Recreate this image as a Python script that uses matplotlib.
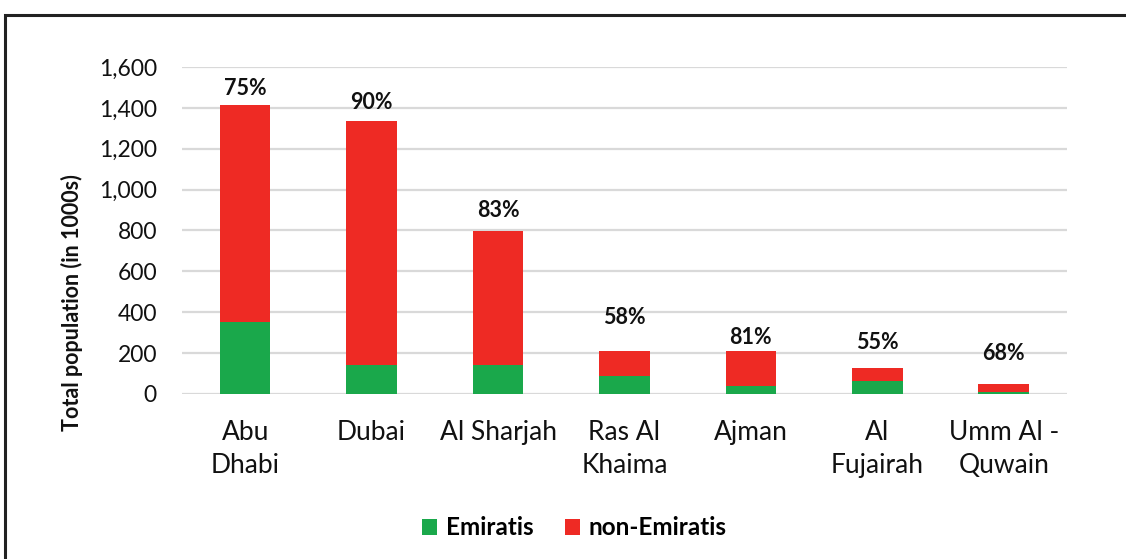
import matplotlib
matplotlib.use('Agg')
import matplotlib.pyplot as plt
from matplotlib.patches import Rectangle
import numpy as np

# Data (population in 1000s)
emirates = ["Abu\nDhabi", "Dubai", "Al Sharjah", "Ras Al\nKhaima",
            "Ajman", "Al\nFujairah", "Umm Al -\nQuwain"]
emiratis = [352, 142, 142, 90, 39, 64, 12]
non_emiratis = [1062, 1194, 656, 120, 171, 65, 38]
share_labels = ["75%", "90%", "83%", "58%", "81%", "55%", "68%"]

# label heights (data units) as placed in the original chart
label_y = [1497, 1424, 900, 372, 274, 250, 200]

green = '#1aa84b'
red = '#ee2a24'

plt.rcParams['font.family'] = ['Lato', 'DejaVu Sans']

fig = plt.figure(figsize=(11.26, 5.59), dpi=100)
ax = fig.add_axes([0.1616, 0.2952, 0.786, 0.585])

x = np.arange(len(emirates))
ax.bar(x, emiratis, width=0.4, color=green, label='Emiratis', zorder=3)
ax.bar(x, non_emiratis, width=0.4, bottom=emiratis, color=red,
       label='non-Emiratis', zorder=3)

for i in range(len(x)):
    ax.text(x[i], label_y[i], share_labels[i], ha='center', va='center',
            fontsize=15.5, fontweight='bold', color='#111111')

ax.set_xlim(-0.5, 6.5)
ax.set_ylim(0, 1600)
ax.set_yticks(range(0, 1601, 200))
ax.set_yticklabels([f"{v:,}" for v in range(0, 1601, 200)])
ax.set_xticks(x)
ax.set_xticklabels(emirates, linespacing=1.38)
ax.tick_params(axis='y', length=0, pad=18, labelsize=16.5, labelcolor='#111111')
ax.tick_params(axis='x', length=0, pad=19, labelsize=19, labelcolor='#111111')
ax.grid(axis='y', color='#d9d9d9', linewidth=1.6, zorder=0)
for s in ax.spines.values():
    s.set_visible(False)

fig.text(0.064, 0.458, "Total population (in 1000s)", rotation=90,
         ha='center', va='center', fontsize=15.5, fontweight='bold',
         color='#111111')

fig.legend(loc='center', bbox_to_anchor=(0.51, 0.0555), ncol=2, frameon=False,
           prop={'size': 17.5, 'weight': 'bold'}, handlelength=0.62,
           handleheight=0.62, handletextpad=0.35, columnspacing=1.3)

# outer frame of the figure box
fig.patches.append(Rectangle((5 / 1126, -0.2), 1.2, 0.2 + 1 - 15 / 559,
                             transform=fig.transFigure, fill=False,
                             edgecolor='#222222', linewidth=2.2))

fig.savefig('out.png', dpi=100)
